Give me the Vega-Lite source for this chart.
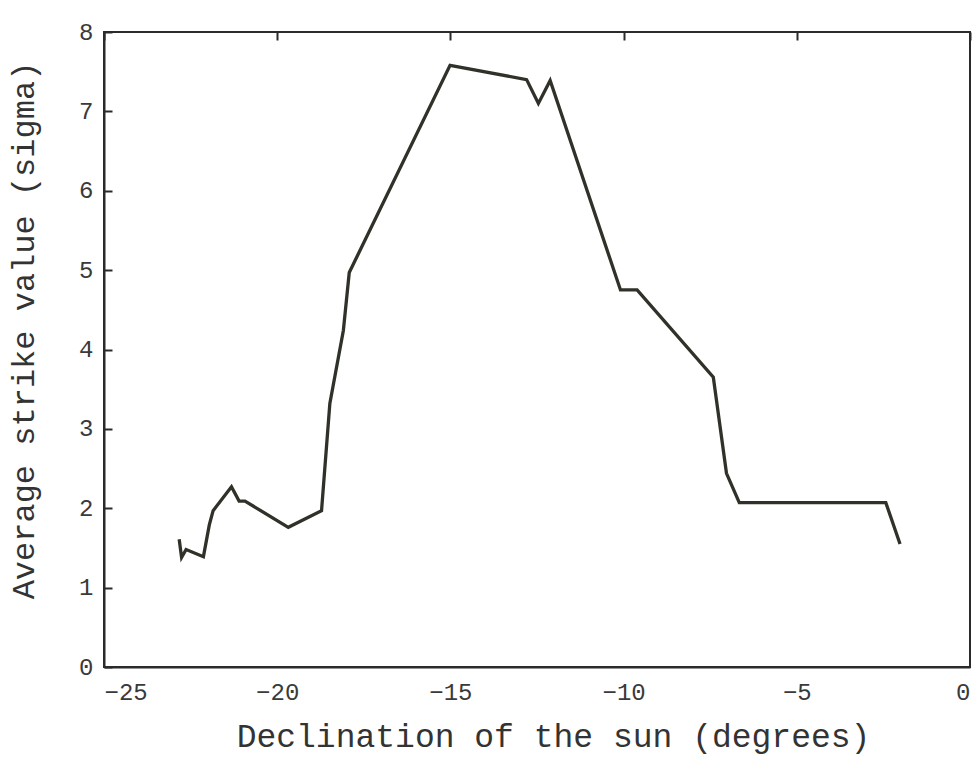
{
  "$schema": "https://vega.github.io/schema/vega-lite/v6.json",
  "width": 866,
  "height": 635,
  "autosize": "none",
  "padding": {"left": 104, "top": 32, "right": 6, "bottom": 93},
  "background": "white",
  "config": {
    "view": {"stroke": "#2b2b2b", "strokeWidth": 2},
    "font": "Liberation Mono"
  },
  "data": {
    "values": [
      {"dec": -22.83, "strike": 1.61},
      {"dec": -22.76, "strike": 1.38},
      {"dec": -22.63, "strike": 1.48},
      {"dec": -22.13, "strike": 1.39},
      {"dec": -21.96, "strike": 1.79},
      {"dec": -21.85, "strike": 1.97},
      {"dec": -21.32, "strike": 2.27},
      {"dec": -21.10, "strike": 2.09},
      {"dec": -20.93, "strike": 2.09},
      {"dec": -19.68, "strike": 1.76},
      {"dec": -18.72, "strike": 1.97},
      {"dec": -18.48, "strike": 3.32},
      {"dec": -18.09, "strike": 4.24},
      {"dec": -17.92, "strike": 4.97},
      {"dec": -15.01, "strike": 7.58},
      {"dec": -12.80, "strike": 7.40},
      {"dec": -12.46, "strike": 7.10},
      {"dec": -12.12, "strike": 7.39},
      {"dec": -10.09, "strike": 4.75},
      {"dec": -9.61, "strike": 4.75},
      {"dec": -7.41, "strike": 3.65},
      {"dec": -7.03, "strike": 2.44},
      {"dec": -6.66, "strike": 2.07},
      {"dec": -2.43, "strike": 2.07},
      {"dec": -2.02, "strike": 1.55}
    ]
  },
  "mark": {"type": "line", "color": "#2f3229", "strokeWidth": 3.3, "strokeJoin": "miter"},
  "encoding": {
    "x": {
      "field": "dec",
      "type": "quantitative",
      "title": "Declination of the sun (degrees)",
      "scale": {"domain": [-25, 0], "nice": false, "zero": false},
      "axis": {
        "values": [-25, -20, -15, -10, -5, 0],
        "format": "d",
        "grid": true,
        "gridColor": "#2b2b2b",
        "gridWidth": 2,
        "gridOpacity": 1,
        "gridDash": [8, 2000],
        "domain": true,
        "domainColor": "#2b2b2b",
        "domainWidth": 2,
        "ticks": false,
        "tickSize": 0,
        "labelPadding": 13,
        "labelDx": -3,
        "labelFontSize": 24,
        "labelColor": "#3a3a3a",
        "labelFont": "Liberation Mono",
        "titleFont": "Liberation Mono",
        "titleFontSize": 33,
        "titleFontWeight": "normal",
        "titleColor": "#333",
        "titlePadding": 16,
        "titleX": 449
      }
    },
    "y": {
      "field": "strike",
      "type": "quantitative",
      "title": "Average strike value (sigma)",
      "scale": {"domain": [0, 8], "nice": false},
      "axis": {
        "values": [0, 1, 2, 3, 4, 5, 6, 7, 8],
        "format": "d",
        "grid": true,
        "gridColor": "#2b2b2b",
        "gridWidth": 2,
        "gridOpacity": 1,
        "gridDash": [8, 2000],
        "domain": true,
        "domainColor": "#2b2b2b",
        "domainWidth": 2,
        "ticks": false,
        "tickSize": 0,
        "labelPadding": 11,
        "labelFontSize": 24,
        "labelColor": "#3a3a3a",
        "labelFont": "Liberation Mono",
        "titleFont": "Liberation Mono",
        "titleFontSize": 32,
        "titleFontWeight": "normal",
        "titleColor": "#333",
        "titlePadding": 38,
        "titleY": 298
      }
    }
  }
}
